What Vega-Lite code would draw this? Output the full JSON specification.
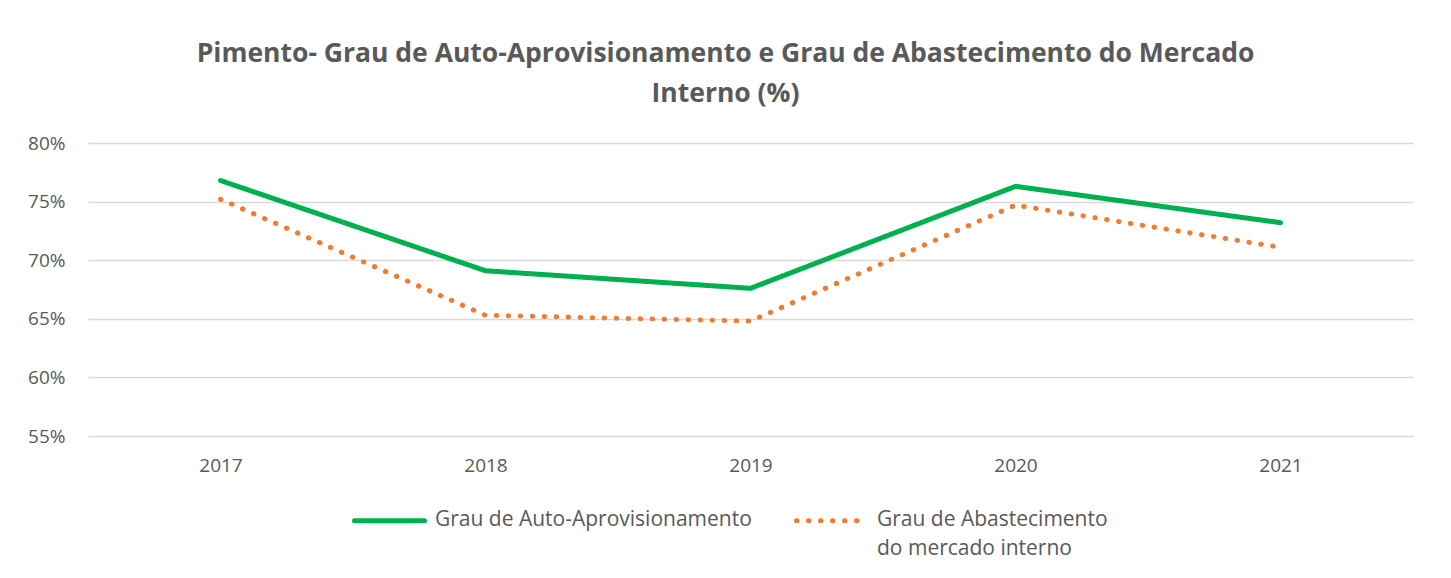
{
  "$schema": "https://vega.github.io/schema/vega-lite/v6.json",
  "width": 1325,
  "height": 293,
  "autosize": {"type": "none"},
  "padding": {"left": 88, "top": 143, "right": 38, "bottom": 142},
  "background": "white",
  "title": {
    "text": ["Pimento- Grau de Auto-Aprovisionamento e Grau de Abastecimento do Mercado", "Interno (%)"],
    "font": "Open Sans",
    "fontSize": 26.5,
    "fontWeight": "bold",
    "color": "#595959",
    "lineHeight": 40,
    "anchor": "middle",
    "dx": -25,
    "offset": 27
  },
  "data": {
    "values": [
      {"year": "2017", "series": "Grau de Auto-Aprovisionamento", "value": 0.768},
      {"year": "2018", "series": "Grau de Auto-Aprovisionamento", "value": 0.691},
      {"year": "2019", "series": "Grau de Auto-Aprovisionamento", "value": 0.676},
      {"year": "2020", "series": "Grau de Auto-Aprovisionamento", "value": 0.763},
      {"year": "2021", "series": "Grau de Auto-Aprovisionamento", "value": 0.732},
      {"year": "2017", "series": "Grau de Abastecimento do mercado interno", "value": 0.752},
      {"year": "2018", "series": "Grau de Abastecimento do mercado interno", "value": 0.653},
      {"year": "2019", "series": "Grau de Abastecimento do mercado interno", "value": 0.648},
      {"year": "2020", "series": "Grau de Abastecimento do mercado interno", "value": 0.747},
      {"year": "2021", "series": "Grau de Abastecimento do mercado interno", "value": 0.711}
    ]
  },
  "mark": {"type": "line", "strokeWidth": 5, "strokeCap": "round", "strokeJoin": "round"},
  "encoding": {
    "x": {
      "field": "year",
      "type": "ordinal",
      "scale": {"type": "point", "padding": 0.5},
      "axis": {
        "title": null,
        "labelAngle": 0,
        "domain": false,
        "ticks": false,
        "labelPadding": 20,
        "labelFont": "Open Sans",
        "labelFontSize": 19,
        "labelColor": "#595959"
      }
    },
    "y": {
      "field": "value",
      "type": "quantitative",
      "scale": {"domain": [0.55, 0.8], "zero": false, "nice": false},
      "axis": {
        "title": null,
        "values": [0.55, 0.6, 0.65, 0.7, 0.75, 0.8],
        "format": ".0%",
        "domain": false,
        "ticks": false,
        "labelPadding": 23,
        "labelFont": "Open Sans",
        "labelFontSize": 19,
        "labelColor": "#595959",
        "gridColor": "#d9d9d9",
        "gridWidth": 1.5
      }
    },
    "color": {
      "field": "series",
      "type": "nominal",
      "sort": ["Grau de Auto-Aprovisionamento", "Grau de Abastecimento do mercado interno"],
      "scale": {
        "domain": ["Grau de Auto-Aprovisionamento", "Grau de Abastecimento do mercado interno"],
        "range": ["#00B050", "#ED7D31"]
      },
      "legend": {
        "title": null,
        "labelBaseline": "top",
        "labelExpr": "datum.label == 'Grau de Abastecimento do mercado interno' ? ['Grau de Abastecimento', 'do mercado interno'] : [datum.label, ' ']",
        "encode": {
          "symbols": {"update": {"strokeCap": {"value": "round"}}},
          "labels": {"update": {"lineHeight": {"value": 29}, "dy": {"value": -12}}}
        }
      }
    },
    "strokeDash": {
      "field": "series",
      "type": "nominal",
      "sort": ["Grau de Auto-Aprovisionamento", "Grau de Abastecimento do mercado interno"],
      "scale": {
        "domain": ["Grau de Auto-Aprovisionamento", "Grau de Abastecimento do mercado interno"],
        "range": [[1, 0], [0.5, 11.5]]
      },
      "legend": {
        "title": null,
        "labelBaseline": "top",
        "labelExpr": "datum.label == 'Grau de Abastecimento do mercado interno' ? ['Grau de Abastecimento', 'do mercado interno'] : [datum.label, ' ']",
        "encode": {
          "symbols": {"update": {"strokeCap": {"value": "round"}}},
          "labels": {"update": {"lineHeight": {"value": 29}, "dy": {"value": -12}}}
        }
      }
    }
  },
  "config": {
    "view": {"stroke": null},
    "legend": {
      "orient": "none",
      "legendX": 264,
      "legendY": 340,
      "direction": "horizontal",
      "symbolType": "stroke",
      "symbolSize": 4900,
      "symbolStrokeWidth": 5,
      "labelFont": "Open Sans",
      "labelFontSize": 21,
      "labelColor": "#595959",
      "labelLimit": 400,
      "labelOffset": 8,
      "columnPadding": 34
    }
  }
}
